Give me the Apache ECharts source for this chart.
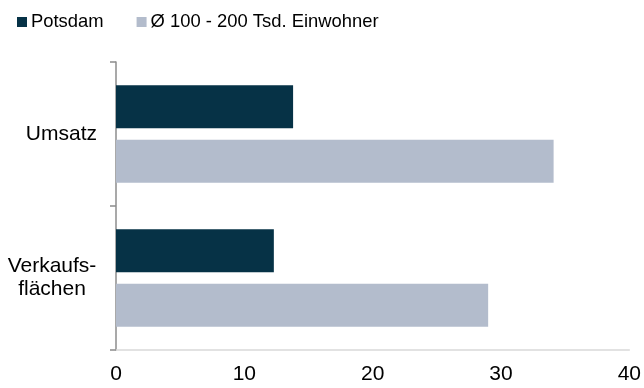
<!DOCTYPE html>
<html><head><meta charset="utf-8">
<script src="https://cdn.jsdelivr.net/npm/echarts@6/dist/echarts.min.js"></script>
<style>html,body{margin:0;padding:0;background:#fff}#c{width:644px;height:388px}</style>
</head><body><div id="c"></div>
<script>
const categories = ['Umsatz', 'Verkaufs-\nflächen'];
const seriesNames = ['Potsdam', 'Ø 100 - 200 Tsd. Einwohner'];
const potsdam = [13.8, 12.3];
const average = [34.1, 29.0];
const xTicks = [0, 10, 20, 30, 40];

const FONT = '"Liberation Sans", Arial, sans-serif';
const chart = echarts.init(document.getElementById('c'));
chart.setOption({
  animation: false,
  textStyle: { fontFamily: FONT },
  legend: {
    left: 12, top: 8,
    icon: 'rect', itemWidth: 10, itemHeight: 10, itemGap: 33,
    textStyle: { fontSize: 18.4, color: '#000', fontFamily: FONT, padding: [0, 0, 0, -1] },
    data: seriesNames
  },
  grid: { left: 116, right: 14, top: 62, bottom: 38, containLabel: false },
  xAxis: {
    type: 'value', min: xTicks[0], max: xTicks[xTicks.length - 1], interval: 10,
    axisLine: { show: true, lineStyle: { color: '#d9d9d9', width: 1.5 } },
    axisTick: { show: false },
    splitLine: { show: false },
    axisLabel: { fontSize: 21, color: '#000', margin: 14, fontFamily: FONT }
  },
  yAxis: {
    type: 'category', inverse: true, data: categories,
    axisLine: { show: true, lineStyle: { color: '#8c8c8c', width: 1.5 } },
    axisTick: { show: true, length: 6, lineStyle: { color: '#8c8c8c', width: 1.5 } },
    axisLabel: {
      margin: 19, color: '#000', fontSize: 21, fontFamily: FONT, lineHeight: 23,
      formatter: function (v) {
        if (v.indexOf('\n') >= 0) return v.split('\n').map(s => '{c|' + s + '}').join('\n');
        return v;
      },
      rich: { c: { width: 90, align: 'center', fontSize: 21, lineHeight: 23, color: '#000', fontFamily: FONT } }
    }
  },
  series: [
    { name: seriesNames[0], type: 'bar', data: potsdam, barWidth: 43, barGap: '27%',
      itemStyle: { color: '#063246' } },
    { name: seriesNames[1], type: 'bar', data: average, barWidth: 43, barGap: '27%',
      itemStyle: { color: '#b3bccc' } }
  ]
});
</script></body></html>
